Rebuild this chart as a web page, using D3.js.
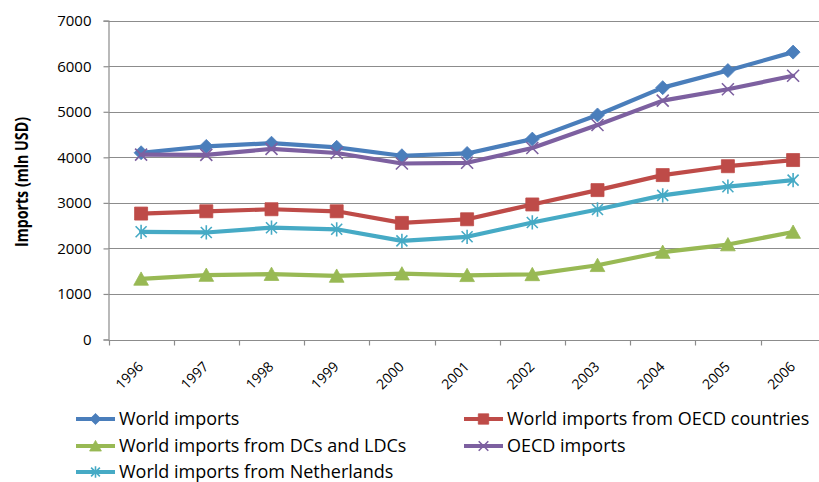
<!DOCTYPE html>
<html>
<head>
<meta charset="utf-8">
<script src="https://cdn.jsdelivr.net/npm/d3@7"></script>
<style>
  html, body { margin: 0; padding: 0; background: #fff; }
  svg { display: block; }
</style>
</head>
<body>
<svg id="chart" width="819" height="482"></svg>
<script>
// Import figures, million USD
const years = ['1996', '1997', '1998', '1999', '2000', '2001', '2002', '2003', '2004', '2005', '2006'];
const worldImports     = [4100, 4240, 4310, 4220, 4035, 4085, 4400, 4930, 5530, 5905, 6310];
const fromOecd         = [2765, 2815, 2860, 2815, 2560, 2640, 2965, 3280, 3610, 3805, 3940];
const fromDcLdc        = [1330, 1415, 1435, 1395, 1445, 1410, 1430, 1630, 1920, 2085, 2360];
const oecdImports      = [4060, 4055, 4185, 4095, 3865, 3880, 4205, 4710, 5245, 5495, 5790];
const fromNetherlands  = [2365, 2350, 2455, 2420, 2165, 2255, 2570, 2855, 3165, 3355, 3500];
const yTicks = [0, 1000, 2000, 3000, 4000, 5000, 6000, 7000];

const seriesNames = [
  'World imports',
  'World imports from OECD countries',
  'World imports from DCs and LDCs',
  'OECD imports',
  'World imports from Netherlands'
];
const seriesValues = [worldImports, fromOecd, fromDcLdc, oecdImports, fromNetherlands];
const seriesColors = ['#4a7ebb', '#be4b48', '#98b954', '#7d60a0', '#46aac5'];
const seriesMarkers = ['diamond', 'square', 'triangle', 'x', 'asterisk'];

const series = seriesNames.map((name, i) => ({
  name, color: seriesColors[i], marker: seriesMarkers[i],
  values: seriesValues[i].map((v, j) => ({ year: years[j], value: v }))
}));

const svg = d3.select('#chart');
const plot = { left: 108.5, right: 825.7, top: 20.7, bottom: 339.5 };

const x = d3.scalePoint().domain(years).range([plot.left, plot.right]).padding(0.5);
const y = d3.scaleLinear().domain([0, 7000]).range([plot.bottom, plot.top]);
const step = x.step();

const fontTick = '"Open Sans", "DejaVu Sans", sans-serif';

// horizontal gridlines
svg.append('g')
  .selectAll('line')
  .data(yTicks)
  .join('line')
  .attr('x1', plot.left).attr('x2', plot.right)
  .attr('y1', d => Math.round(y(d)) + 0.5).attr('y2', d => Math.round(y(d)) + 0.5)
  .attr('stroke', '#8c8c8c').attr('stroke-width', 1.2);

// y axis
const yAxis = svg.append('g')
  .attr('transform', `translate(${plot.left},0)`)
  .call(d3.axisLeft(y).tickValues(yTicks).tickSize(5).tickPadding(12).tickFormat(d3.format('d')));
yAxis.select('.domain').attr('stroke', '#8c8c8c').attr('stroke-width', 1.2);
yAxis.selectAll('.tick line').attr('stroke', '#8c8c8c').attr('stroke-width', 1.2);
yAxis.selectAll('.tick text')
  .attr('font-family', fontTick).attr('font-size', 15).attr('fill', '#000');

// x axis: ticks on category boundaries
const xAxisG = svg.append('g').attr('transform', `translate(0,${Math.round(y(0)) + 0.5})`);
xAxisG.append('line')
  .attr('x1', plot.left).attr('x2', plot.right)
  .attr('stroke', '#8c8c8c').attr('stroke-width', 1.2);
xAxisG.selectAll('line.tick')
  .data(d3.range(years.length + 1))
  .join('line').attr('class', 'tick')
  .attr('x1', i => Math.round(plot.left + i * step) + 0.5)
  .attr('x2', i => Math.round(plot.left + i * step) + 0.5)
  .attr('y1', 0).attr('y2', 5)
  .attr('stroke', '#8c8c8c').attr('stroke-width', 1.2);
xAxisG.selectAll('text')
  .data(years)
  .join('text')
  .attr('transform', d => `translate(${x(d) + 3},${27}) rotate(-45)`)
  .attr('text-anchor', 'end')
  .attr('font-family', fontTick).attr('font-size', 14).attr('fill', '#000')
  .text(d => d);

// y axis title
svg.append('text')
  .attr('transform', 'translate(28,182) rotate(-90)')
  .attr('text-anchor', 'middle')
  .attr('font-family', '"Open Sans", "Liberation Sans", sans-serif')
  .attr('font-weight', 'bold').attr('font-size', 17).attr('fill', '#000')
  .attr('textLength', 130).attr('lengthAdjust', 'spacingAndGlyphs')
  .text('Imports (mln USD)');

// marker shapes
function markerPath(type, s) {
  const p = d3.path();
  if (type === 'diamond') {
    p.moveTo(0, -s); p.lineTo(s, 0); p.lineTo(0, s); p.lineTo(-s, 0); p.closePath();
  } else if (type === 'square') {
    p.rect(-s, -s, 2 * s, 2 * s);
  } else if (type === 'triangle') {
    p.moveTo(0, -s); p.lineTo(s * 1.05, s * 0.9); p.lineTo(-s * 1.05, s * 0.9); p.closePath();
  } else if (type === 'x') {
    p.moveTo(-s, -s); p.lineTo(s, s); p.moveTo(s, -s); p.lineTo(-s, s);
  } else if (type === 'asterisk') {
    p.moveTo(-s, -s); p.lineTo(s, s); p.moveTo(s, -s); p.lineTo(-s, s);
    p.moveTo(0, -s * 1.3); p.lineTo(0, s * 1.3);
  }
  return p.toString();
}
const markerSize = { diamond: 7, square: 6.5, triangle: 7, x: 6, asterisk: 5.5 };
function drawMarker(sel, d, scale) {
  const s = markerSize[d.marker] * scale;
  const stroked = d.marker === 'x' || d.marker === 'asterisk';
  sel.attr('d', markerPath(d.marker, s))
    .attr('fill', stroked ? 'none' : d.color)
    .attr('stroke', d.color)
    .attr('stroke-width', stroked ? 1.6 : 0.8);
}

const line = d3.line().x(d => x(d.year)).y(d => y(d.value));

// series lines and markers
const gSeries = svg.append('g')
  .selectAll('g')
  .data(series)
  .join('g');
gSeries.append('path')
  .attr('d', d => line(d.values))
  .attr('fill', 'none')
  .attr('stroke', d => d.color)
  .attr('stroke-width', 4.2)
  .attr('stroke-linejoin', 'round')
  .attr('stroke-linecap', 'round');
gSeries.each(function (d) {
  d3.select(this).selectAll('path.marker')
    .data(d.values)
    .join('path').attr('class', 'marker')
    .attr('transform', v => `translate(${x(v.year)},${y(v.value)})`)
    .each(function () { drawMarker(d3.select(this), d, 1); });
});

// legend, two columns, row-major
const legendCols = [76, 464];
const legendRows = [419, 446, 472];
const legend = svg.append('g')
  .selectAll('g')
  .data(series)
  .join('g')
  .attr('transform', (d, i) => `translate(${legendCols[i % 2]},${legendRows[Math.floor(i / 2)]})`);
legend.append('line')
  .attr('x1', 0).attr('x2', 39).attr('y1', 0).attr('y2', 0)
  .attr('stroke', d => d.color).attr('stroke-width', 4.2);
legend.append('path')
  .attr('transform', 'translate(19.5,0)')
  .each(function (d) { drawMarker(d3.select(this), d, 0.8); });
legend.append('text')
  .attr('x', 43).attr('y', 0).attr('dy', '0.35em')
  .attr('font-family', fontTick).attr('font-size', 18).attr('fill', '#000')
  .text(d => d.name);
</script>
</body>
</html>
